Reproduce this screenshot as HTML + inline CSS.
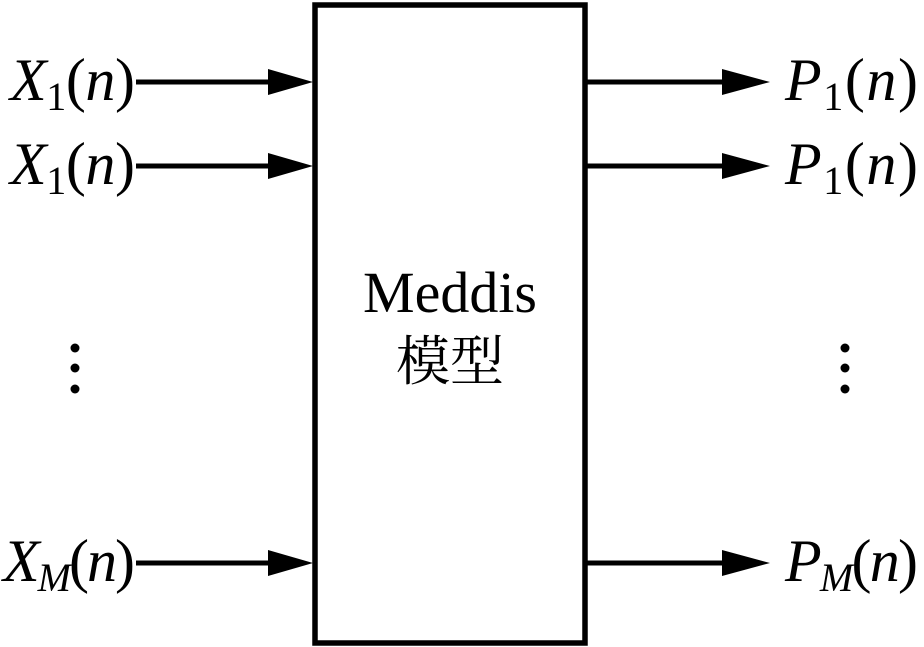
<!DOCTYPE html>
<html><head><meta charset="utf-8"><style>
html,body{margin:0;padding:0;background:#fff;}
svg{display:block;}
</style></head><body>
<svg width="924" height="647" viewBox="0 0 924 647" xmlns="http://www.w3.org/2000/svg" font-family="'Liberation Serif', 'Noto Serif CJK SC', serif">
<rect x="315" y="5" width="270" height="638" fill="none" stroke="#000" stroke-width="5.5"/>
<g stroke="#000" stroke-width="5">
<line x1="136" y1="82" x2="272" y2="82"/>
<line x1="136" y1="166" x2="272" y2="166"/>
<line x1="136" y1="563" x2="272" y2="563"/>
<line x1="586" y1="82" x2="726" y2="82"/>
<line x1="586" y1="166" x2="726" y2="166"/>
<line x1="586" y1="563" x2="726" y2="563"/>
</g>
<g fill="#000">
<polygon points="268,69 313,82 268,95"/>
<polygon points="268,153 313,166 268,179"/>
<polygon points="268,550 313,563 268,576"/>
<polygon points="722,69 770,82 722,95"/>
<polygon points="722,153 770,166 722,179"/>
<polygon points="722,550 770,563 722,576"/>
<circle cx="75" cy="348" r="4.5"/><circle cx="75" cy="368" r="4.5"/><circle cx="75" cy="389" r="4.5"/>
<circle cx="845" cy="348" r="4.5"/><circle cx="845" cy="368" r="4.5"/><circle cx="845" cy="389" r="4.5"/>
</g>
<g font-size="60" font-family="Liberation Serif, serif">
<text x="10" y="100" textLength="125" lengthAdjust="spacing"><tspan font-style="italic">X</tspan><tspan font-size="40" dy="10">1</tspan><tspan dy="-10">(</tspan><tspan font-style="italic">n</tspan><tspan>)</tspan></text>
<text x="10" y="184" textLength="125" lengthAdjust="spacing"><tspan font-style="italic">X</tspan><tspan font-size="40" dy="10">1</tspan><tspan dy="-10">(</tspan><tspan font-style="italic">n</tspan><tspan>)</tspan></text>
<text x="3" y="581" textLength="132" lengthAdjust="spacing"><tspan font-style="italic">X</tspan><tspan font-size="40" font-style="italic" dy="10">M</tspan><tspan dy="-10">(</tspan><tspan font-style="italic">n</tspan><tspan>)</tspan></text>
<text x="785" y="100" textLength="133" lengthAdjust="spacing"><tspan font-style="italic">P</tspan><tspan font-size="40" dy="10">1</tspan><tspan dy="-10">(</tspan><tspan font-style="italic">n</tspan><tspan>)</tspan></text>
<text x="785" y="184" textLength="133" lengthAdjust="spacing"><tspan font-style="italic">P</tspan><tspan font-size="40" dy="10">1</tspan><tspan dy="-10">(</tspan><tspan font-style="italic">n</tspan><tspan>)</tspan></text>
<text x="785" y="581" textLength="133" lengthAdjust="spacing"><tspan font-style="italic">P</tspan><tspan font-size="40" font-style="italic" dy="10">M</tspan><tspan dy="-10">(</tspan><tspan font-style="italic">n</tspan><tspan>)</tspan></text>
</g>
<text x="450" y="312" font-size="58" text-anchor="middle" font-family="Liberation Serif, serif">Meddis</text>
<text x="450" y="380" font-size="54" text-anchor="middle" font-family="Noto Serif CJK SC, serif">模型</text>
</svg>
</body></html>
